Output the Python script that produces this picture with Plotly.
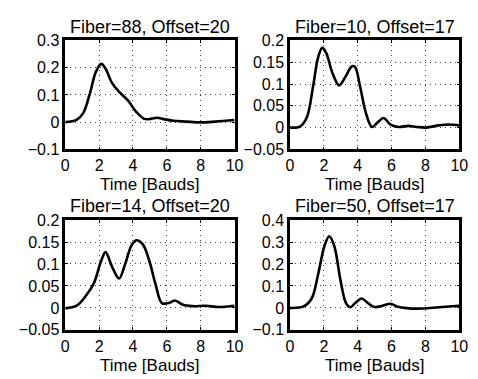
import plotly.graph_objects as go

# ---- data ----
titles = ["Fiber=88, Offset=20", "Fiber=10, Offset=17",
          "Fiber=14, Offset=20", "Fiber=50, Offset=17"]

t1 = [0, 0.67, 1.05, 1.43, 1.81, 2.13, 2.38, 2.76, 3.14, 3.71, 4.19, 4.67, 5.05, 5.43, 5.81, 6.38, 7.14, 8.0, 8.86, 10.0]
y1 = [0, 0.008, 0.032, 0.10, 0.185, 0.214, 0.196, 0.144, 0.114, 0.079, 0.038, 0.012, 0.012, 0.016, 0.011, 0.005, 0.002, -0.001, 0.002, 0.008]

t2 = [0, 0.61, 0.99, 1.37, 1.66, 1.9, 2.13, 2.51, 2.9, 3.28, 3.66, 3.85, 4.13, 4.51, 4.84, 5.18, 5.52, 5.94, 6.42, 7.0, 7.47, 8.04, 8.8, 9.37, 10.0]
y2 = [0, 0.003, 0.023, 0.096, 0.161, 0.183, 0.172, 0.125, 0.097, 0.117, 0.141, 0.139, 0.096, 0.030, 0.0015, 0.012, 0.022, 0.007, 0.0015, 0.004, 0.0015, 0, 0.005, 0.007, 0.005]

t3 = [0, 0.67, 1.24, 1.71, 2.1, 2.38, 2.76, 3.18, 3.52, 3.9, 4.19, 4.57, 4.95, 5.33, 5.71, 6.1, 6.48, 6.95, 7.52, 8.29, 9.05, 10.0]
y3 = [-0.001, 0.005, 0.029, 0.058, 0.105, 0.127, 0.094, 0.067, 0.098, 0.141, 0.154, 0.145, 0.109, 0.054, 0.011, 0.011, 0.017, 0.007, 0.004, 0.005, 0.002, 0.005]

t4 = [0, 0.8, 1.28, 1.66, 2.04, 2.32, 2.61, 2.99, 3.31, 3.56, 3.85, 4.23, 4.61, 4.99, 5.47, 5.94, 6.32, 6.9, 7.85, 8.8, 10.0]
y4 = [0, 0.007, 0.043, 0.152, 0.283, 0.326, 0.283, 0.123, 0.022, 0.003, 0.022, 0.043, 0.022, 0.004, 0.01, 0.019, 0.007, -0.001, -0.003, 0.003, 0.01]

series_t = [t1, t2, t3, t4]
series_y = [y1, y2, y3, y4]

yranges = [[-0.1, 0.3], [-0.05, 0.2], [-0.05, 0.2], [-0.1, 0.4]]
ydticks = [0.1, 0.05, 0.05, 0.1]
xtickvals = [0, 2, 4, 6, 8, 10]
xlabel = "Time [Bauds]"

# ---- layout geometry ----
W, H = 478, 379
xdoms = [[63 / W, 237 / W], [294 / W, 468 / W]]
ydoms = [[1 - 148 / H, 1 - 34 / H], [1 - 337 / H, 1 - 222 / H]]

FONT = "Liberation Sans, Arial, Helvetica, sans-serif"
FS_TICK = 16
FS_TITLE = 18
FS_LABEL = 17

fig = go.Figure()
layout = dict(
    width=W, height=H,
    margin=dict(l=0, r=0, t=0, b=0),
    paper_bgcolor="white", plot_bgcolor="white",
    showlegend=False,
    font=dict(family=FONT, size=FS_TICK, color="black"),
    annotations=[],
)

for i in range(4):
    row, col = divmod(i, 2)
    sx = "" if i == 0 else str(i + 1)
    fig.add_trace(go.Scatter(
        x=series_t[i], y=series_y[i], mode="lines",
        line=dict(color="black", width=2.6, shape="spline", smoothing=1.0),
        xaxis="x" + sx, yaxis="y" + sx, hoverinfo="skip",
    ))
    common = dict(
        showline=True, linecolor="black", linewidth=2.5, mirror="allticks",
        ticks="inside", ticklen=3, tickwidth=1, tickcolor="black",
        showgrid=True, gridcolor="#444", gridwidth=1, griddash="1px,4px",
        zeroline=False, tickfont=dict(family=FONT, size=FS_TICK, color="black"),
    )
    layout["xaxis" + sx] = dict(
        domain=xdoms[col], anchor="y" + sx, range=[0, 10],
        tickvals=xtickvals, **common,
    )
    layout["yaxis" + sx] = dict(
        domain=ydoms[row], anchor="x" + sx, range=yranges[i],
        dtick=ydticks[i], tick0=0, **common,
    )
    cx = (xdoms[col][0] + xdoms[col][1]) / 2
    layout["annotations"].append(dict(
        text=titles[i], x=cx, xref="paper", y=ydoms[row][1] + 2 / H, yref="paper",
        xanchor="center", yanchor="bottom", showarrow=False,
        font=dict(family=FONT, size=FS_TITLE, color="black"),
    ))
    layout["annotations"].append(dict(
        text=xlabel, x=cx, xref="paper", y=ydoms[row][0] - 25 / H, yref="paper",
        xanchor="center", yanchor="top", showarrow=False,
        font=dict(family=FONT, size=FS_LABEL, color="black"),
    ))

fig.update_layout(**layout)
fig.write_html("out.html")
